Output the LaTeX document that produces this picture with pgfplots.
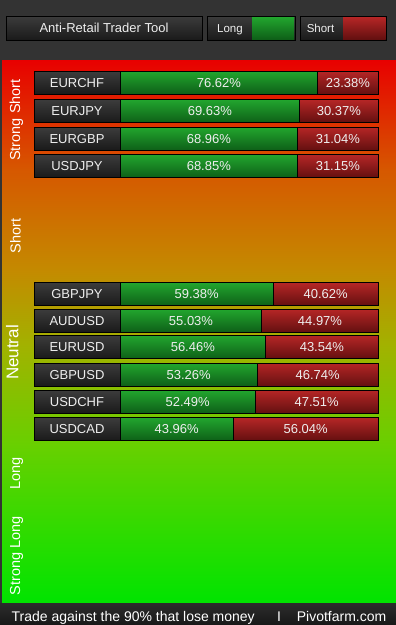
\documentclass[border=0pt]{standalone}
\usepackage{pgfplots}
\pgfplotsset{compat=1.18}
\usepackage{pgfplotstable}
\usepackage{fontspec}
\setmainfont{Liberation Sans}

\definecolor{hdrbg}{RGB}{51,51,51}
\definecolor{boxtop}{RGB}{60,60,60}
\definecolor{boxbot}{RGB}{26,26,26}
\definecolor{gtop}{RGB}{34,166,46}
\definecolor{gbot}{RGB}{14,96,24}
\definecolor{rtop}{RGB}{182,38,38}
\definecolor{rbot}{RGB}{100,16,16}
\definecolor{c0}{RGB}{232,0,0}
\definecolor{c1}{RGB}{214,88,0}
\definecolor{c2}{RGB}{196,138,0}
\definecolor{c3}{RGB}{162,178,0}
\definecolor{c4}{RGB}{104,208,0}
\definecolor{c5}{RGB}{0,228,0}
\definecolor{ftop}{RGB}{44,44,44}
\definecolor{fbot}{RGB}{24,24,24}
\definecolor{txt}{RGB}{238,238,238}

\pgfplotstableread{
y name g r
82.5 EURCHF 76.62 23.38
111 EURJPY 69.63 30.37
138.5 EURGBP 68.96 31.04
166 USDJPY 68.85 31.15
294 GBPJPY 59.38 40.62
320.5 AUDUSD 55.03 44.97
347 EURUSD 56.46 43.54
374.5 GBPUSD 53.26 46.74
401.5 USDCHF 52.49 47.51
429 USDCAD 43.96 56.04
}\pairs

\pgfplotsset{
  canvas/.style={scale only axis, width=396pt, height=625pt, ymin=0, ymax=625,
    y dir=reverse, hide axis, clip=false, at={(0pt,0pt)}, anchor=south west},
  pct/.style={xmin=-46.5116, xmax=106.9767},
  lbl/.style={only marks, mark=*, mark size=0pt, point meta=explicit symbolic,
    nodes near coords, nodes near coords align=center,
    every node near coord/.append style={anchor=center, inner sep=0pt,
      text height=9.3pt, text depth=0pt, text=txt,
      font=\fontsize{13}{15}\selectfont}},
  onerow/.style={x filter/.code={\ifnum\coordindex=#1\relax\else\def\pgfmathresult{}\fi}},
  barsty/.style={xbar, bar width=23pt, draw=black, line width=1pt},
}

\begin{document}
\begin{tikzpicture}
% ---------- background canvas ----------
\begin{axis}[canvas, xmin=0, xmax=396]
  \fill[hdrbg] (axis cs:0,0) rectangle (axis cs:396,60);
  \shade[top color=c0, bottom color=c1] (axis cs:0,60) rectangle (axis cs:396,170.5);
  \shade[top color=c1, bottom color=c2] (axis cs:0,170) rectangle (axis cs:396,270.5);
  \shade[top color=c2, bottom color=c3] (axis cs:0,270) rectangle (axis cs:396,345.5);
  \shade[top color=c3, bottom color=c4] (axis cs:0,345) rectangle (axis cs:396,445.5);
  \shade[top color=c4, bottom color=c5] (axis cs:0,445) rectangle (axis cs:396,603);
  \fill[hdrbg] (axis cs:0,60) rectangle (axis cs:1.5,603);
  \shade[top color=ftop, bottom color=fbot] (axis cs:0,603) rectangle (axis cs:396,625);
  % header boxes
  \shade[top color=boxtop, bottom color=boxbot, draw=black, line width=1pt]
    (axis cs:6.5,16) rectangle (axis cs:202,40);
  \node[anchor=base, inner sep=0pt, text=txt, font=\fontsize{13}{15}\selectfont]
    at (axis cs:104,32.7) {Anti-Retail Trader Tool};
  \shade[top color=boxtop, bottom color=boxbot, draw=black, line width=1pt]
    (axis cs:207,16) rectangle (axis cs:295,40);
  \shade[top color=gtop, bottom color=gbot] (axis cs:252,17) rectangle (axis cs:294,39);
  \node[anchor=base, inner sep=0pt, text=txt, font=\fontsize{11.5}{13}\selectfont]
    at (axis cs:230,32.3) {Long};
  \shade[top color=boxtop, bottom color=boxbot, draw=black, line width=1pt]
    (axis cs:300,16) rectangle (axis cs:386.5,40);
  \shade[top color=rtop, bottom color=rbot] (axis cs:343,17) rectangle (axis cs:385.5,39);
  \node[anchor=base, inner sep=0pt, text=txt, font=\fontsize{11.5}{13}\selectfont]
    at (axis cs:320.5,32.3) {Short};
  % side labels
  \begin{scope}[every node/.style={rotate=90, anchor=base, text=white, inner sep=0pt,
      font=\fontsize{14.5}{16}\selectfont}]
    \node at (axis cs:20,120) {Strong Short};
    \node at (axis cs:20.5,236) {Short};
    \node[font=\fontsize{17}{19}\selectfont] at (axis cs:18.5,352.5) {Neutral};
    \node at (axis cs:20,473.5) {Long};
    \node at (axis cs:20,556) {Strong Long};
  \end{scope}
  % footer
  \node[anchor=base west, text=white, inner sep=0pt, font=\fontsize{14}{16}\selectfont]
    at (axis cs:11.5,621.5) {Trade against the 90\% that lose money};
  \node[anchor=base, text=white, inner sep=0pt, font=\fontsize{14}{16}\selectfont]
    at (axis cs:279,621.5) {I};
  \node[anchor=base east, text=white, inner sep=0pt, font=\fontsize{14}{16}\selectfont]
    at (axis cs:386.5,621.5) {Pivotfarm.com};
\end{axis}

% ---------- bars, name boxes and texts ----------
\begin{axis}[canvas, pct]
  \pgfplotsinvokeforeach{0,...,9}{
    \addplot[barsty, onerow=#1, top color=rtop, bottom color=rbot]
      table[x expr=\thisrow{g}+\thisrow{r}, y=y] {\pairs};
    \addplot[barsty, onerow=#1, top color=gtop, bottom color=gbot]
      table[x=g, y=y] {\pairs};
    \addplot[barsty, onerow=#1, top color=boxtop, bottom color=boxbot]
      table[x expr=-33.33, y=y] {\pairs};
  }
  \addplot[lbl] table[x expr=-16.67, y=y, meta=name] {\pairs};
  \addplot[lbl, nodes near coords={\pgfplotspointmeta\%}]
    table[x expr=\thisrow{g}/2, y=y, meta=g] {\pairs};
  \addplot[lbl, nodes near coords={\pgfplotspointmeta\%}]
    table[x expr=\thisrow{g}+\thisrow{r}/2, y=y, meta=r] {\pairs};
\end{axis}
\end{tikzpicture}
\end{document}
